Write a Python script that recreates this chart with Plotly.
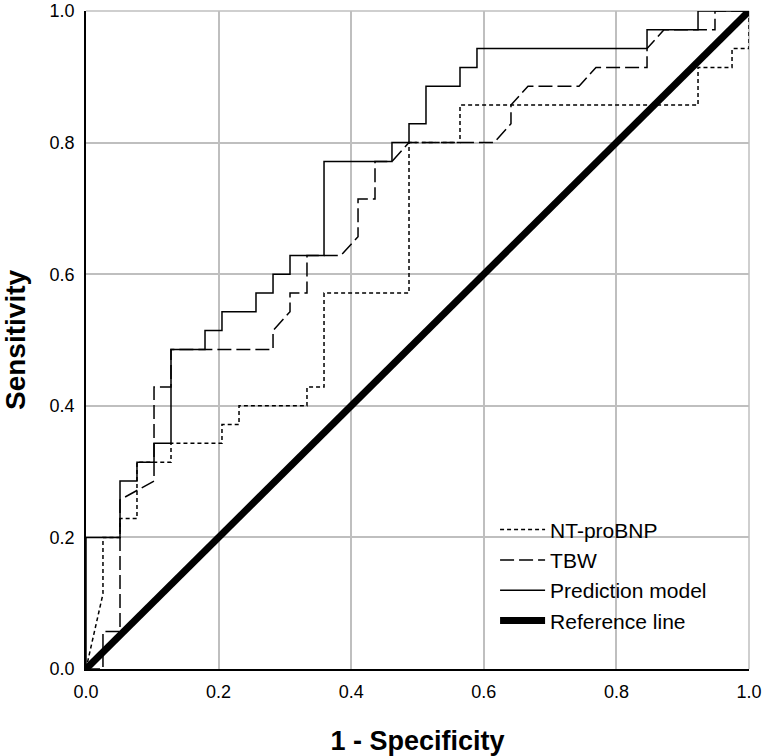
import plotly.graph_objects as go

# ROC curve vertices (1 - specificity, sensitivity)
nt_fpr = [0, 0.0256, 0.0256, 0.0513, 0.0513, 0.0769, 0.0769, 0.1282, 0.1282, 0.2051, 0.2051,
          0.2308, 0.2308, 0.3333, 0.3333, 0.3590, 0.3590, 0.4872, 0.4872, 0.5641, 0.5641,
          0.9231, 0.9231, 0.9744, 0.9744, 1.0, 1.0]
nt_tpr = [0, 0.1143, 0.2, 0.2, 0.2286, 0.2286, 0.3143, 0.3143, 0.3429, 0.3429, 0.3714,
          0.3714, 0.4, 0.4, 0.4286, 0.4286, 0.5714, 0.5714, 0.8, 0.8, 0.8571,
          0.8571, 0.9143, 0.9143, 0.9429, 0.9429, 1.0]

tbw_fpr = [0, 0.0256, 0.0256, 0.0513, 0.0513, 0.1026, 0.1026, 0.1282, 0.1282, 0.2821, 0.2821,
           0.3077, 0.3077, 0.3333, 0.3333, 0.3846, 0.4103, 0.4103, 0.4359, 0.4359, 0.4615,
           0.4872, 0.6154, 0.6410, 0.6410, 0.6667, 0.7436, 0.7692, 0.8462, 0.8462, 0.8718,
           0.9487, 0.9487, 1.0]
tbw_tpr = [0, 0, 0.0571, 0.0571, 0.2571, 0.2857, 0.4286, 0.4286, 0.4857, 0.4857, 0.5143,
           0.5429, 0.5714, 0.5714, 0.6286, 0.6286, 0.6571, 0.7143, 0.7143, 0.7714, 0.7714,
           0.8, 0.8, 0.8286, 0.8571, 0.8857, 0.8857, 0.9143, 0.9143, 0.9429, 0.9714,
           0.9714, 1.0, 1.0]

pm_fpr = [0, 0, 0.0513, 0.0513, 0.0769, 0.0769, 0.1026, 0.1026, 0.1282, 0.1282, 0.1795,
          0.1795, 0.2051, 0.2051, 0.2564, 0.2564, 0.2821, 0.2821, 0.3077, 0.3077, 0.3590,
          0.3590, 0.4615, 0.4615, 0.4872, 0.4872, 0.5128, 0.5128, 0.5641, 0.5641, 0.5897,
          0.5897, 0.8462, 0.8462, 0.9231, 0.9231, 1.0]
pm_tpr = [0, 0.2, 0.2, 0.2857, 0.2857, 0.3143, 0.3143, 0.3429, 0.3429, 0.4857, 0.4857,
          0.5143, 0.5143, 0.5429, 0.5429, 0.5714, 0.5714, 0.6, 0.6, 0.6286, 0.6286,
          0.7714, 0.7714, 0.8, 0.8, 0.8286, 0.8286, 0.8857, 0.8857, 0.9143, 0.9143,
          0.9429, 0.9429, 0.9714, 0.9714, 1.0, 1.0]

ref_x = [0, 1]
ref_y = [0, 1]

series_names = ["NT-proBNP", "TBW", "Prediction model", "Reference line"]
tick_vals = [0, 0.2, 0.4, 0.6, 0.8, 1.0]
tick_text = ["0.0", "0.2", "0.4", "0.6", "0.8", "1.0"]
x_title = "1 - Specificity"
y_title = "Sensitivity"

FONT = "Liberation Sans, Arial, sans-serif"
GRID = "#bfbfbf"

fig = go.Figure()
fig.add_trace(go.Scatter(x=nt_fpr, y=nt_tpr, mode="lines", name=series_names[0],
                         line=dict(color="black", width=1.5, dash="4px,3px")))
fig.add_trace(go.Scatter(x=tbw_fpr, y=tbw_tpr, mode="lines", name=series_names[1],
                         line=dict(color="black", width=1.5, dash="14px,5px")))
fig.add_trace(go.Scatter(x=pm_fpr, y=pm_tpr, mode="lines", name=series_names[2],
                         line=dict(color="black", width=1.5)))
fig.add_trace(go.Scatter(x=ref_x, y=ref_y, mode="lines", name=series_names[3],
                         line=dict(color="black", width=7)))

axis_common = dict(
    range=[0, 1], tickvals=tick_vals, ticktext=tick_text,
    showgrid=True, gridcolor=GRID, gridwidth=1.5,
    zeroline=False, showline=True, linecolor="black", linewidth=1.5,
    ticks="", tickfont=dict(family=FONT, size=18, color="black"),
    ticklabeloverflow="allow", automargin=False,
)

fig.update_layout(
    width=762, height=756,
    margin=dict(l=86, r=13, t=11, b=87),
    paper_bgcolor="white", plot_bgcolor="white",
    xaxis=dict(**axis_common, ticklabelstandoff=6,
               title=dict(text="<b>" + x_title + "</b>",
                          font=dict(family=FONT, size=27, color="black"), standoff=32)),
    yaxis=dict(**axis_common, ticklabelstandoff=6),
    legend=dict(x=0.617, y=0.2425, xanchor="left", yanchor="top",
                bgcolor="rgba(0,0,0,0)", borderwidth=0,
                font=dict(family=FONT, size=21, color="black"),
                itemwidth=45, tracegroupgap=0),
    showlegend=True,
    shapes=[
        dict(type="line", xref="paper", yref="paper", x0=0, x1=1, y0=1, y1=1,
             line=dict(color=GRID, width=1.5), layer="below"),
        dict(type="line", xref="paper", yref="paper", x0=1, x1=1, y0=0, y1=1,
             line=dict(color=GRID, width=1.5), layer="below"),
    ],
    annotations=[
        dict(text="<b>" + y_title + "</b>", xref="paper", yref="paper",
             x=(15 - 86) / 663, y=0.5, xanchor="center", yanchor="middle",
             textangle=-90, showarrow=False,
             font=dict(family=FONT, size=28, color="black")),
    ],
)

fig.write_html("out.html")
